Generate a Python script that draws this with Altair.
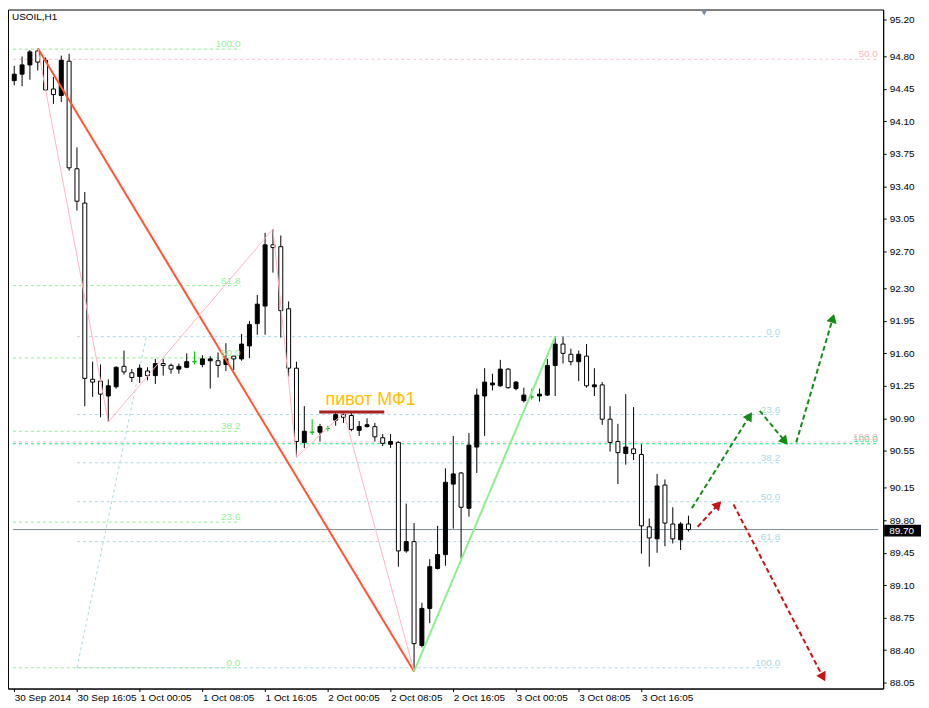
import math
import altair as alt
import pandas as pd

# ---------------- data ----------------
OPEN = [94.54, 94.61, 94.71, 94.86, 94.76, 94.45, 94.38, 94.75, 93.59, 93.22,
        91.32, 91.30, 91.14, 91.24, 91.46, 91.39, 91.35, 91.41, 91.36, 91.49,
        91.47, 91.43, 91.45, 91.51, 91.48, 91.52, 91.52, 91.48, 91.57, 91.54,
        91.68, 91.92, 92.11, 92.77, 92.75, 92.08, 91.44, 90.64, 90.75, 90.75,
        90.79, 90.88, 90.94, 90.93, 90.77, 90.81, 90.81, 90.69, 90.62, 90.64,
        89.47, 89.57, 88.45, 88.85, 89.28, 89.43, 90.19, 90.31, 89.93, 90.59,
        91.14, 91.26, 91.25, 91.43, 91.22, 91.09, 91.13, 91.14, 91.15, 91.47,
        91.70, 91.59, 91.51, 91.57, 91.24, 91.26, 90.89, 90.65, 90.52, 90.57,
        90.51, 89.73, 89.60, 90.18, 89.76, 89.59, 89.76]
HIGH = [94.70, 94.80, 94.87, 94.89, 94.79, 94.58, 94.81, 94.83, 93.82, 93.34,
        91.51, 91.48, 91.32, 91.46, 91.63, 91.43, 91.48, 91.45, 91.54, 91.54,
        91.49, 91.49, 91.60, 91.62, 91.58, 91.57, 91.61, 91.71, 91.58, 91.81,
        91.95, 92.23, 92.90, 92.94, 92.87, 92.16, 91.51, 91.03, 90.89, 90.84,
        90.82, 90.96, 90.96, 90.96, 90.87, 90.90, 90.85, 90.73, 90.73, 90.65,
        89.98, 89.77, 88.91, 89.38, 89.74, 90.36, 90.71, 90.32, 90.74, 91.22,
        91.44, 91.38, 91.53, 91.44, 91.30, 91.23, 91.22, 91.22, 91.54, 91.78,
        91.78, 91.65, 91.63, 91.70, 91.44, 91.29, 91.03, 90.84, 91.16, 91.02,
        90.62, 89.82, 90.30, 90.24, 89.94, 89.78, 89.85]
LOW = [94.49, 94.48, 94.55, 94.65, 94.43, 94.29, 94.31, 93.57, 93.14, 91.03,
       91.13, 90.91, 90.86, 91.22, 91.37, 91.29, 91.28, 91.31, 91.27, 91.36,
       91.38, 91.38, 91.44, 91.48, 91.45, 91.22, 91.34, 91.41, 91.42, 91.52,
       91.55, 91.80, 91.80, 92.47, 91.77, 91.35, 90.48, 90.58, 90.72, 90.65,
       90.76, 90.82, 90.85, 90.76, 90.71, 90.80, 90.65, 90.60, 90.58, 89.30,
       89.45, 88.17, 88.43, 88.69, 89.27, 89.31, 89.71, 89.39, 89.84, 90.31,
       90.71, 91.20, 91.24, 91.22, 91.20, 91.07, 91.10, 91.08, 91.14, 91.14,
       91.49, 91.47, 91.30, 91.23, 91.14, 90.83, 90.54, 90.19, 90.40, 90.45,
       89.44, 89.30, 89.45, 89.52, 89.55, 89.48, 89.68]
CLOSE = [94.61, 94.71, 94.85, 94.74, 94.44, 94.39, 94.76, 93.60, 93.24, 91.33,
         91.29, 91.16, 91.25, 91.45, 91.40, 91.34, 91.44, 91.36, 91.49, 91.47,
         91.43, 91.46, 91.51, 91.51, 91.54, 91.54, 91.47, 91.54, 91.54, 91.70,
         91.91, 92.13, 92.77, 92.74, 92.06, 91.44, 90.65, 90.76, 90.75, 90.81,
         90.79, 90.94, 90.91, 90.78, 90.81, 90.83, 90.70, 90.63, 90.65, 89.47,
         89.57, 88.47, 88.85, 89.30, 89.43, 90.21, 90.30, 89.94, 90.61, 91.15,
         91.29, 91.28, 91.43, 91.23, 91.29, 91.15, 91.13, 91.16, 91.47, 91.70,
         91.60, 91.51, 91.59, 91.25, 91.26, 90.89, 90.64, 90.53, 90.59, 90.52,
         89.74, 89.61, 90.17, 89.77, 89.60, 89.76, 89.70]

TIME_TICK_BARS = [0, 8, 16, 24, 32, 40, 48, 56, 64, 72, 80]
TIME_TICK_LABELS = ["30 Sep 2014", "30 Sep 16:05", "1 Oct 00:05", "1 Oct 08:05",
                    "1 Oct 16:05", "2 Oct 00:05", "2 Oct 08:05", "2 Oct 16:05",
                    "3 Oct 00:05", "3 Oct 08:05", "3 Oct 16:05"]
PRICE_TICKS = [95.20, 94.80, 94.45, 94.10, 93.75, 93.40, 93.05, 92.70, 92.30,
               91.95, 91.60, 91.25, 90.90, 90.55, 90.15, 89.80, 89.45, 89.10,
               88.75, 88.40, 88.05]
LAST_PRICE = 89.70
SYMBOL_TITLE = "USOIL,H1"

# Fibonacci level sets (bar index range, level prices, level labels)
GREEN_FIB_X = [-0.16, 28.85]
GREEN_FIB_PRICES = [94.88, 92.33, 91.55, 90.76, 89.78, 88.21]
GREEN_FIB_LABELS = ["100.0", "61.8", "50.0", "38.2", "23.6", "0.0"]
BLUE_FIB_X = [8.0, 97.7]
BLUE_FIB_PRICES = [91.78, 90.94, 90.42, 90.00, 89.57, 88.21]
BLUE_FIB_LABELS = ["0.0", "23.6", "38.2", "50.0", "61.8", "100.0"]
BLUE_FIB_TREND_X = [8.0, 16.84]
BLUE_FIB_TREND_P = [88.21, 91.78]
PINK_LEVEL_PRICES = [94.77, 90.645]
PINK_LEVEL_LABELS = ["50.0", "100.0"]
SPRING_LEVEL_PRICES = [90.625]
SPRING_LEVEL_LABELS = ["100.0"]
FULL_X = [-0.16, 110.2]

# trend lines
RED_LINE_X = [3, 51]
RED_LINE_P = [94.89, 88.17]
PINK_ZZ_X = [3, 12, 33, 36, 42.05, 51]
PINK_ZZ_P = [94.89, 90.86, 92.94, 90.48, 90.96, 88.17]
GREEN_LINE_X = [51, 69]
GREEN_LINE_P = [88.17, 91.78]

# pivot annotation
PIVOT_X = [38.9, 47.2]
PIVOT_P = 90.967
PIVOT_TEXT = "пивот МФ1"
PIVOT_TEXT_X = 39.7
PIVOT_TEXT_P = 91.045

# forecast arrows
ARROW_X0 = [86.43, 95.09, 99.75, 87.18, 91.75]
ARROW_P0 = [89.93, 90.98, 90.64, 89.73, 89.97]
ARROW_X1 = [94.13, 98.71, 104.59, 90.21, 103.46]
ARROW_P1 = [90.97, 90.61, 92.03, 90.01, 88.06]
ARROW_COLOR = ["#168A16", "#168A16", "#168A16", "#C81414", "#C81414"]

SHIFT_MARK_X = 88.0

# ---------------- geometry / styling ----------------
W, H = 879, 682
XMIN, XMAX = FULL_X
YMIN, YMAX = 87.986, 95.307
sx = W / (XMAX - XMIN)
sy = H / (YMAX - YMIN)
FONT = "Liberation Sans"

xs = alt.Scale(domain=[XMIN, XMAX], nice=False, zero=False)
ys = alt.Scale(domain=[YMIN, YMAX], nice=False, zero=False)
label_arr = "[" + ",".join("'" + s + "'" for s in TIME_TICK_LABELS) + "]"
x_axis = alt.Axis(values=TIME_TICK_BARS, labelExpr=label_arr + "[round(datum.value/8)]",
                  title=None, grid=False, labelAlign="left", labelPadding=1, tickSize=3,
                  labelFont=FONT, labelFontSize=10, labelColor="black",
                  domainColor="black", tickColor="black", labelOverlap=False,
                  labelFlush=False)
y_axis = alt.Axis(values=PRICE_TICKS, format=".2f", orient="right", title=None,
                  grid=False, labelPadding=3, tickSize=3, labelFont=FONT,
                  labelFontSize=10, labelColor="black", domainColor="black",
                  tickColor="black", labelOverlap=False, labelFlush=False)


def X(field):
    return alt.X(field, type="quantitative", scale=xs, axis=x_axis)


def Y(field):
    return alt.Y(field, type="quantitative", scale=ys, axis=y_axis)


# candles
n = len(OPEN)
kinds = ["bull" if c > o else ("bear" if c < o else "doji") for o, c in zip(OPEN, CLOSE)]
candles = pd.DataFrame({
    "i": list(range(n)), "o": OPEN, "h": HIGH, "l": LOW, "c": CLOSE, "kind": kinds,
    "top": [max(o, c) for o, c in zip(OPEN, CLOSE)],
    "bot": [min(o, c) for o, c in zip(OPEN, CLOSE)],
})
kdom = ["bull", "bear", "doji"]
wicks = alt.Chart(candles).mark_rule(strokeWidth=1, clip=True).encode(
    x=X("i"), y=Y("l"), y2="h",
    color=alt.Color("kind:N", scale=alt.Scale(domain=kdom, range=["black", "black", "#00C000"]), legend=None))
bodies = alt.Chart(candles).mark_bar(size=4, strokeWidth=1, clip=True).encode(
    x=X("i"), y=Y("bot"), y2="top",
    fill=alt.Fill("kind:N", scale=alt.Scale(domain=kdom, range=["black", "white", "#00C000"]), legend=None),
    stroke=alt.Stroke("kind:N", scale=alt.Scale(domain=kdom, range=["black", "black", "#00C000"]), legend=None))

# horizontal levels
rows = []
for p, lab in zip(GREEN_FIB_PRICES, GREEN_FIB_LABELS):
    rows.append(dict(x0=GREEN_FIB_X[0], x1=GREEN_FIB_X[1], p=p, lab=lab, col="#90EE90", tcol="#98F098"))
for p, lab in zip(BLUE_FIB_PRICES, BLUE_FIB_LABELS):
    rows.append(dict(x0=BLUE_FIB_X[0], x1=BLUE_FIB_X[1], p=p, lab=lab, col="#ADD8E6", tcol="#ADD8E6"))
for p, lab in zip(SPRING_LEVEL_PRICES, SPRING_LEVEL_LABELS):
    rows.append(dict(x0=FULL_X[0], x1=FULL_X[1] - 0.05, p=p, lab=lab, col="#00F080", tcol="#40E0A0"))
for p, lab in zip(PINK_LEVEL_PRICES, PINK_LEVEL_LABELS):
    rows.append(dict(x0=FULL_X[0], x1=FULL_X[1] - 0.05, p=p, lab=lab, col="#FFC0CB", tcol="#FFB6C1"))
levels = pd.DataFrame(rows)
level_lines = alt.Chart(levels).mark_rule(strokeWidth=1, strokeDash=[3, 3]).encode(
    x=X("x0"), x2="x1", y=Y("p"), color=alt.Color("col:N", scale=None))
level_text = alt.Chart(levels).mark_text(align="right", baseline="bottom", dy=0,
                                         fontSize=10, font=FONT).encode(
    x=X("x1"), y=Y("p"), text="lab:N", color=alt.Color("tcol:N", scale=None))

# current price line
last_df = pd.DataFrame({"x0": [FULL_X[0]], "x1": [FULL_X[1]], "p": [LAST_PRICE],
                        "lab": [f"{LAST_PRICE:.2f}"],
                        "p_hi": [LAST_PRICE + 0.052], "p_lo": [LAST_PRICE - 0.075]})
last_line = alt.Chart(last_df).mark_rule(strokeWidth=1, color="#7A8B9C").encode(
    x=X("x0"), x2="x1", y=Y("p"))
last_box = alt.Chart(last_df).mark_rect(color="black").encode(
    x=alt.value(W + 1), x2=alt.value(W + 38), y=Y("p_hi"), y2="p_lo")
last_text = alt.Chart(last_df).mark_text(align="left", baseline="middle", color="white",
                                         fontSize=10, font=FONT, dy=1).encode(
    x=alt.value(W + 6), y=Y("p"), text="lab:N")


def line_df(xv, pv):
    return pd.DataFrame({"x": xv, "p": pv, "o": list(range(len(xv)))})


red_line = alt.Chart(line_df(RED_LINE_X, RED_LINE_P)).mark_line(
    color="#FF5533", strokeWidth=2).encode(x=X("x"), y=Y("p"), order="o:Q")
pink_line = alt.Chart(line_df(PINK_ZZ_X, PINK_ZZ_P)).mark_line(
    color="#FFB6C1", strokeWidth=1).encode(x=X("x"), y=Y("p"), order="o:Q")
green_line = alt.Chart(line_df(GREEN_LINE_X, GREEN_LINE_P)).mark_line(
    color="#90EE90", strokeWidth=2).encode(x=X("x"), y=Y("p"), order="o:Q")
blue_trend = alt.Chart(line_df(BLUE_FIB_TREND_X, BLUE_FIB_TREND_P)).mark_line(
    color="#ADD8E6", strokeWidth=1, strokeDash=[3, 3]).encode(x=X("x"), y=Y("p"), order="o:Q")

# pivot
pivot_df = pd.DataFrame({"x0": [PIVOT_X[0]], "x1": [PIVOT_X[1]], "p": [PIVOT_P],
                         "tx": [PIVOT_TEXT_X], "tp": [PIVOT_TEXT_P], "t": [PIVOT_TEXT]})
pivot_line = alt.Chart(pivot_df).mark_rule(color="#A82020", strokeWidth=3).encode(
    x=X("x0"), x2="x1", y=Y("p"))
pivot_text = alt.Chart(pivot_df).mark_text(align="left", baseline="alphabetic",
                                           color="#FFC000", fontSize=18, font=FONT).encode(
    x=X("tx"), y=Y("tp"), text="t:N")

# arrows
arow, hrow = [], []
for k, (x0, p0, x1, p1, col) in enumerate(zip(ARROW_X0, ARROW_P0, ARROW_X1, ARROW_P1, ARROW_COLOR)):
    dx = (x1 - x0) * sx
    dy = -(p1 - p0) * sy
    ln = math.hypot(dx, dy)
    ux, uy = dx / ln, dy / ln
    back = 5.0
    hx = x1 - ux * back / sx
    hp = p1 + uy * back / sy
    ang = math.degrees(math.atan2(dx, -dy)) % 360
    arow.append(dict(a=k, o=0, x=x0, p=p0, col=col))
    arow.append(dict(a=k, o=1, x=hx, p=hp, col=col))
    hrow.append(dict(x=hx, p=hp, ang=ang, col=col))
arrows_df = pd.DataFrame(arow)
heads_df = pd.DataFrame(hrow)
arrow_lines = alt.Chart(arrows_df).mark_line(strokeWidth=2, strokeDash=[5, 3]).encode(
    x=X("x"), y=Y("p"), detail="a:N", order="o:Q", color=alt.Color("col:N", scale=None))
arrow_heads = alt.Chart(heads_df).mark_point(shape="triangle-up", filled=True, size=110,
                                             opacity=1).encode(
    x=X("x"), y=Y("p"), angle=alt.Angle("ang:Q", scale=None),
    color=alt.Color("col:N", scale=None))

# title text and chart-shift marker
misc_df = pd.DataFrame({"t": [SYMBOL_TITLE], "sx": [SHIFT_MARK_X]})
title_text = alt.Chart(misc_df).mark_text(align="left", baseline="middle", fontSize=10,
                                          font=FONT, color="black").encode(
    x=alt.value(4), y=alt.value(8), text="t:N")
shift_mark = alt.Chart(misc_df).mark_point(shape="triangle-down", filled=True, size=45,
                                           color="#7A8B9C", opacity=1).encode(
    x=X("sx"), y=alt.value(3))

chart = alt.layer(
    level_lines, blue_trend, last_line,
    wicks, bodies,
    red_line, pink_line, green_line,
    level_text, pivot_line, pivot_text,
    arrow_lines, arrow_heads,
    last_box, last_text, title_text, shift_mark,
).properties(
    width=W, height=H, padding={"left": 0, "top": 0, "right": 0, "bottom": 0},
    background="white",
).configure_view(stroke="black", strokeWidth=1)

chart.save("out.html", embed_options={"renderer": "svg", "actions": False})
